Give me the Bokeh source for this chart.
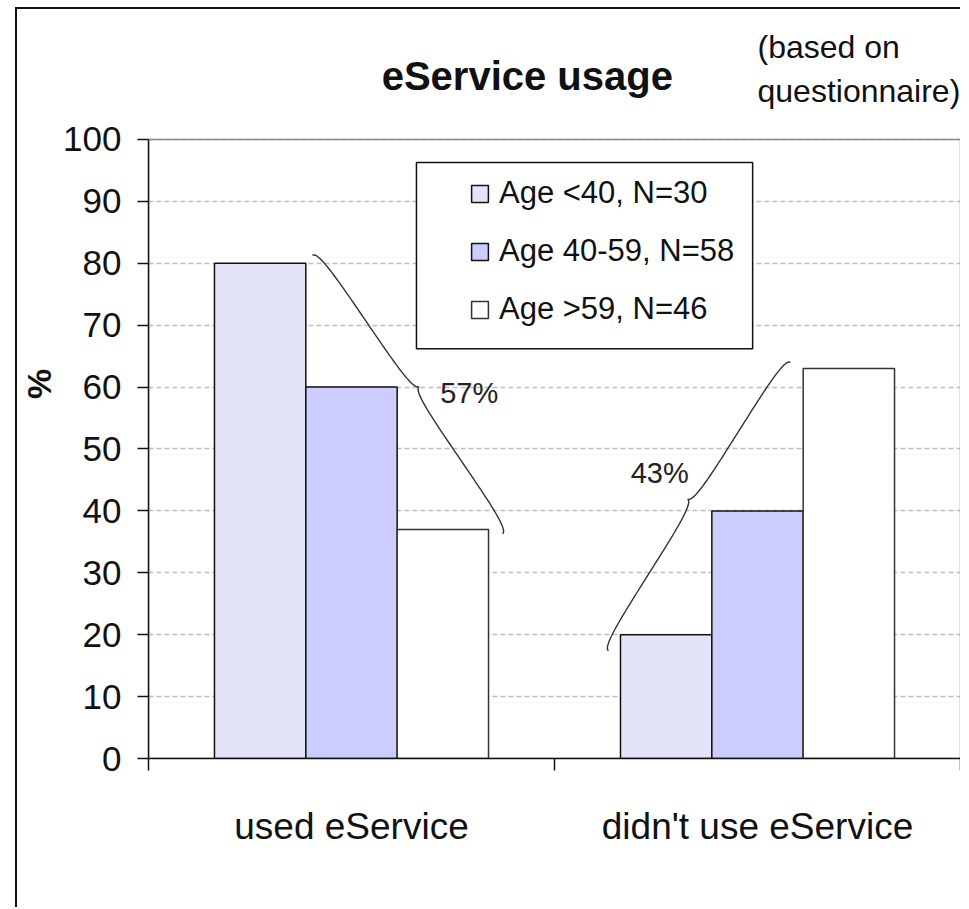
import numpy as np
from bokeh.plotting import figure
from bokeh.models import (Range1d, FixedTicker, Legend, LegendItem, Label,
                          BoxAnnotation)
from bokeh.core.properties import value
from bokeh.embed import file_html
from bokeh.resources import INLINE

# ---------------- data ----------------
categories = ["used eService", "didn't use eService"]
groups = ["Age <40, N=30", "Age 40-59, N=58", "Age >59, N=46"]
age_lt40 = [80, 20]
age_40_59 = [60, 40]
age_gt59 = [37, 63]
series = [age_lt40, age_40_59, age_gt59]
y_ticks = [0, 10, 20, 30, 40, 50, 60, 70, 80, 90, 100]

title_text = "eService usage"
note_text = "(based on\nquestionnaire)"

# brace annotations (data coordinates)
brace_labels = ["57%", "43%"]
brace_start_x = [0.404, 1.133]
brace_start_y = [81.3, 17.4]
brace_end_x = [0.872, 1.581]
brace_end_y = [36.3, 64.0]
brace_label_x = [0.79, 1.259]
brace_label_y = [59.0, 46.2]

# ---------------- style ----------------
FONT = "Liberation Sans"
BAR_W = 0.225
fills = ["#E4E4F8", "#CCCCFF", "#FFFFFF"]
line_cols = ["#111111", "#111111", "#333333"]
SX, SY = 406.0, 6.19  # approx px per data unit (for brace shape)

p = figure(width=945, height=900, x_range=Range1d(0, 2.0049), y_range=Range1d(0, 121.0),
           output_backend="svg", toolbar_location=None, title=None,
           min_border_left=131, min_border_right=0,
           min_border_top=0, min_border_bottom=151)
p.styles = {"margin-left": "15px", "margin-top": "7px",
            "border-left": "2px solid #111111", "border-top": "2px solid #111111"}
p.background_fill_color = "white"
p.border_fill_color = "white"
p.outline_line_color = None

# plot-area border (grey frame up to 100 %)
plot_area = BoxAnnotation(left=0, right=2, bottom=0, top=100, fill_alpha=0,
                          line_color="#8C8C8C", line_alpha=1.0, line_width=1.5,
                          level="underlay")
p.add_layout(plot_area)

# bars
centers = [0.5 + i for i in range(len(categories))]
offsets = [-BAR_W, 0.0, BAR_W]
renderers = []
for i, vals in enumerate(series):
    r = p.vbar(x=[c + offsets[i] for c in centers], top=vals, bottom=0, width=BAR_W,
               fill_color=fills[i], line_color=line_cols[i], line_width=1.5)
    renderers.append(r)

# grid
p.xgrid.visible = False
p.ygrid.grid_line_color = "#BDBDBD"
p.ygrid.grid_line_dash = "5 3"
p.ygrid.grid_line_width = 1.5

# y axis
p.yaxis.ticker = FixedTicker(ticks=y_ticks)
p.yaxis.bounds = (0, 100)
p.yaxis.axis_label = "%"
p.yaxis.axis_label_text_font = FONT
p.yaxis.axis_label_text_font_size = "34px"
p.yaxis.axis_label_text_font_style = "bold"
p.yaxis.axis_label_text_color = "#111111"
p.yaxis.axis_label_standoff = 2
p.yaxis.major_label_text_font = FONT
p.yaxis.major_label_text_font_size = "35px"
p.yaxis.major_label_text_color = "#111111"
p.yaxis.major_label_standoff = 16
p.yaxis.major_tick_out = 11
p.yaxis.major_tick_in = 0
p.yaxis.minor_tick_out = 0
p.yaxis.minor_tick_in = 0
p.yaxis.axis_line_width = 1.5
p.yaxis.major_tick_line_width = 1.5
p.yaxis.axis_line_color = "#111111"
p.yaxis.major_tick_line_color = "#111111"

# x axis: labels at category centres, tick marks at category boundaries
p.xaxis.ticker = FixedTicker(ticks=centers, minor_ticks=[0, 1, 2])
p.xaxis.bounds = (0, 2)
p.xaxis.major_label_overrides = {c: lab for c, lab in zip(centers, categories)}
p.xaxis.major_label_text_font = FONT
p.xaxis.major_label_text_font_size = "37px"
p.xaxis.major_label_text_color = "#111111"
p.xaxis.major_label_standoff = 35
p.xaxis.major_tick_out = 0
p.xaxis.major_tick_in = 0
p.xaxis.minor_tick_out = 12
p.xaxis.minor_tick_in = 0
p.xaxis.minor_tick_line_color = "#111111"
p.xaxis.minor_tick_line_width = 1.5
p.xaxis.axis_line_width = 1.5
p.xaxis.axis_line_color = "#111111"


# braces
def brace(x0, y0, x1, y1, w=7.0, n=30):
    S = np.array([x0 * SX, y0 * SY])
    E = np.array([x1 * SX, y1 * SY])
    v = E - S
    L = np.hypot(v[0], v[1])
    d = v / L
    nn = np.array([-d[1], d[0]])
    q = L / 2
    C = S + q * d + 2 * w * nn
    Q1 = S + 0.5 * q * d + w * nn
    Q2 = S + 1.5 * q * d + w * nn
    segs = [
        (S, S + w * nn, Q1 - 0.3 * q * d, Q1),
        (Q1, Q1 + 0.3 * q * d, C - w * nn, C),
        (C, C - w * nn, Q2 - 0.3 * q * d, Q2),
        (Q2, Q2 + 0.3 * q * d, E + w * nn, E),
    ]
    t = np.linspace(0, 1, n)[:, None]
    pts = []
    for P0, P1, P2, P3 in segs:
        b = ((1 - t) ** 3) * P0 + 3 * ((1 - t) ** 2) * t * P1 + 3 * (1 - t) * t ** 2 * P2 + t ** 3 * P3
        pts.append(b)
    pts = np.vstack(pts)
    return list(pts[:, 0] / SX), list(pts[:, 1] / SY)


bx, by = [], []
for i in range(len(brace_labels)):
    xs, ys = brace(brace_start_x[i], brace_start_y[i], brace_end_x[i], brace_end_y[i])
    bx.append(xs)
    by.append(ys)
p.multi_line(xs=bx, ys=by, line_color="#333333", line_width=1.4)
p.text(x=brace_label_x, y=brace_label_y, text=brace_labels,
       text_font=value(FONT), text_font_size=value("29px"),
       text_align="center", text_baseline="middle", text_color="#222222")

# legend frame + legend
legend_box = BoxAnnotation(left=0.660, right=1.488, top=96.3, bottom=66.2,
                           fill_color="white", fill_alpha=1.0,
                           line_color="#111111", line_alpha=1.0, line_width=1.5)
p.add_layout(legend_box)
legend = Legend(items=[LegendItem(label=g, renderers=[r]) for g, r in zip(groups, renderers)],
                location=(311, 421))
legend.glyph_width = 21
legend.glyph_height = 21
legend.label_text_font = FONT
legend.label_text_font_size = "31px"
legend.label_text_color = "#111111"
legend.label_standoff = 9
legend.label_height = 36
legend.spacing = 22
legend.padding = 10
legend.background_fill_alpha = 0
legend.border_line_alpha = 0
p.add_layout(legend)

# title and note (drawn inside the extended frame, above the 100 % line)
title = Label(x=0.933, y=110.2, text=title_text, text_font=FONT,
              text_font_size="40px", text_font_style="bold", text_color="#111111",
              text_align="center", text_baseline="middle")
p.add_layout(title)
note = Label(x=1.5, y=117.9, text=note_text, text_font=FONT,
             text_font_size="32px", text_color="#111111", text_baseline="top",
             text_align="left", text_line_height=1.22)
p.add_layout(note)

open("out.html", "w").write(file_html(p, INLINE))
